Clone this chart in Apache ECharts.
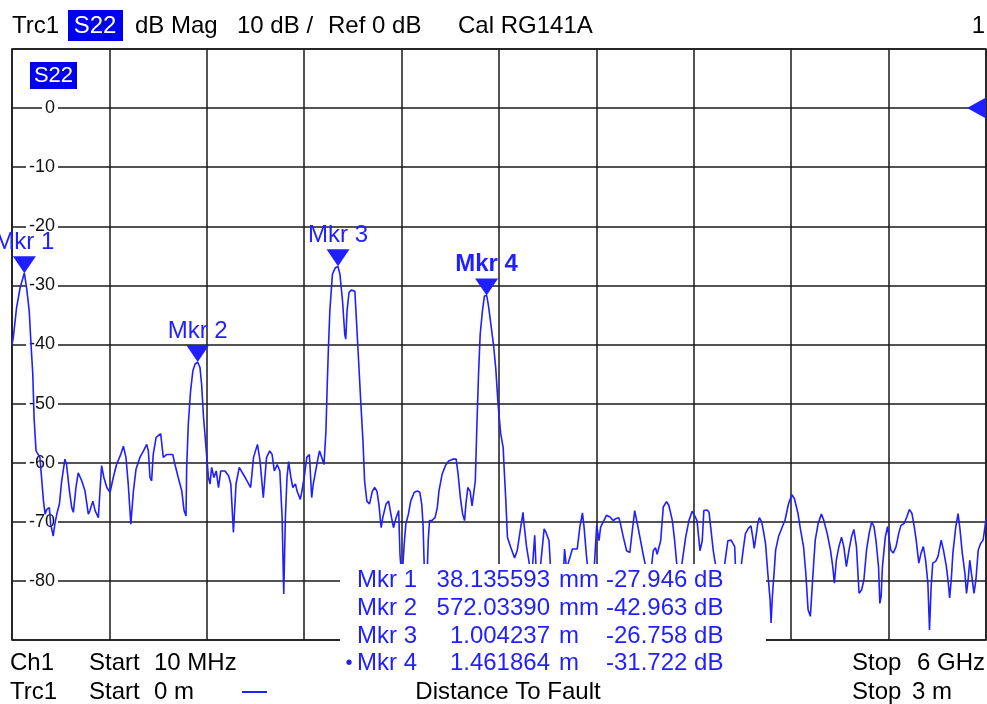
<!DOCTYPE html>
<html>
<head>
<meta charset="utf-8">
<script src="https://cdn.jsdelivr.net/npm/echarts/dist/echarts.min.js"></script>
</head>
<body style="margin:0; background:#fff">
<div id="container" style="width:987px;height:704px;"></div>
<script>
// distance to fault trace, S22 (m / dB)
var distance = [
  0.000,0.004,0.014,0.025,0.038,0.045,0.053,0.058,0.064,0.068,0.074,0.086,0.091,0.097,0.102,0.107,0.115,0.119,0.127,0.132,
  0.138,0.146,0.153,0.163,0.168,0.177,0.184,0.189,0.197,0.204,0.215,0.225,0.235,0.240,0.249,0.256,0.266,0.271,0.276,0.283,
  0.292,0.302,0.312,0.322,0.335,0.343,0.351,0.358,0.366,0.374,0.382,0.394,0.405,0.415,0.420,0.425,0.430,0.435,0.444,0.458,
  0.466,0.477,0.495,0.502,0.512,0.523,0.530,0.536,0.538,0.543,0.550,0.557,0.564,0.572,0.579,0.584,0.590,0.595,0.600,0.605,
  0.610,0.615,0.622,0.629,0.636,0.643,0.656,0.667,0.674,0.682,0.690,0.700,0.718,0.735,0.744,0.756,0.764,0.774,0.784,0.794,
  0.801,0.808,0.817,0.825,0.832,0.837,0.842,0.847,0.852,0.859,0.865,0.873,0.878,0.888,0.893,0.900,0.908,0.916,0.923,0.928,
  0.939,0.947,0.954,0.961,0.967,0.971,0.975,0.979,0.987,0.996,1.004,1.010,1.018,1.025,1.028,1.032,1.038,1.045,1.056,1.061,
  1.066,1.074,1.081,1.086,1.093,1.101,1.110,1.117,1.124,1.130,1.137,1.142,1.152,1.160,1.167,1.175,1.183,1.191,1.195,1.201,
  1.208,1.213,1.221,1.228,1.239,1.249,1.256,1.262,1.266,1.271,1.278,1.282,1.286,1.293,1.303,1.310,1.315,1.325,1.335,1.345,
  1.358,1.368,1.374,1.381,1.388,1.394,1.398,1.404,1.411,1.417,1.423,1.427,1.432,1.437,1.442,1.449,1.455,1.462,1.467,1.475,
  1.483,1.490,1.497,1.505,1.513,1.515,1.521,1.526,1.536,1.548,1.556,1.567,1.574,1.577,1.585,1.592,1.600,1.610,1.615,1.626,
  1.639,1.645,1.654,1.661,1.680,1.698,1.702,1.708,1.726,1.741,1.749,1.757,1.762,1.769,1.777,1.792,1.801,1.808,1.813,1.823,
  1.831,1.842,1.852,1.859,1.869,1.874,1.883,1.893,1.903,1.910,1.918,1.926,1.934,1.944,1.957,1.969,1.975,1.982,1.987,1.998,
  2.006,2.016,2.023,2.034,2.041,2.049,2.061,2.075,2.085,2.095,2.102,2.110,2.119,2.126,2.131,2.141,2.147,2.152,2.160,2.172,
  2.193,2.205,2.215,2.226,2.228,2.242,2.247,2.252,2.259,2.268,2.276,2.283,2.286,2.290,2.297,2.302,2.309,2.314,2.321,2.328,
  2.335,2.338,2.342,2.348,2.352,2.361,2.371,2.381,2.392,2.402,2.410,2.421,2.428,2.438,2.445,2.452,2.459,2.466,2.474,2.483,
  2.493,2.500,2.511,2.521,2.528,2.533,2.539,2.547,2.555,2.562,2.570,2.578,2.586,2.593,2.601,2.609,2.617,2.624,2.632,2.640,
  2.648,2.655,2.661,2.669,2.673,2.677,2.681,2.690,2.697,2.702,2.707,2.714,2.723,2.731,2.738,2.748,2.756,2.764,2.772,2.779,
  2.785,2.793,2.800,2.807,2.814,2.821,2.826,2.831,2.836,2.845,2.852,2.862,2.869,2.878,2.884,2.888,2.893,2.898,2.907,2.914,
  2.919,2.927,2.935,2.940,2.945,2.950,2.955,2.963,2.969,2.976,2.983,2.991,2.997,3.000
];
var magnitude = [
  -40.0,-38.8,-33.8,-30.4,-27.9,-30.4,-34.3,-39.4,-45.0,-52.4,-58.0,-59.1,-62.5,-66.5,-68.7,-67.9,-67.6,-70.4,-72.4,-70.4,
  -68.7,-67.0,-63.1,-59.4,-60.3,-64.8,-67.6,-68.4,-64.2,-61.7,-63.1,-64.8,-68.7,-68.1,-66.5,-68.1,-69.3,-64.8,-60.5,-62.5,
  -64.2,-65.0,-62.5,-60.3,-58.6,-57.2,-59.1,-63.6,-70.4,-64.8,-61.1,-59.1,-58.0,-56.9,-58.0,-62.5,-63.1,-58.6,-55.7,-55.1,
  -59.1,-58.6,-58.6,-60.3,-62.5,-64.8,-68.1,-69.0,-60.8,-53.5,-47.9,-44.5,-43.3,-43.0,-43.9,-46.7,-52.4,-55.7,-59.1,-62.5,
  -63.6,-60.8,-62.5,-61.4,-64.2,-61.4,-61.4,-62.2,-63.6,-71.8,-63.6,-60.8,-62.5,-64.2,-59.1,-56.9,-59.7,-65.9,-59.1,-58.0,
  -58.6,-61.4,-60.3,-61.4,-69.3,-82.2,-69.3,-62.5,-59.8,-62.5,-64.2,-63.6,-64.8,-66.2,-64.8,-62.5,-59.1,-58.6,-65.9,-63.6,
  -60.3,-58.0,-59.1,-60.3,-54.6,-46.7,-40.0,-34.3,-28.1,-27.0,-26.8,-28.1,-32.6,-38.3,-39.1,-34.3,-31.2,-30.8,-31.0,-36.0,
  -41.1,-49.5,-56.3,-63.1,-66.5,-67.0,-64.8,-64.2,-64.8,-67.0,-71.0,-69.3,-67.0,-66.5,-68.7,-71.0,-69.3,-68.1,-75.5,-80.0,
  -73.8,-70.4,-68.7,-66.5,-65.0,-64.8,-65.0,-67.0,-70.4,-80.0,-80.0,-73.2,-69.8,-69.8,-69.3,-67.6,-64.8,-61.9,-60.5,-59.7,
  -59.4,-59.4,-61.9,-65.9,-68.7,-69.8,-67.0,-64.2,-64.8,-67.3,-67.0,-63.1,-53.5,-45.0,-38.3,-34.3,-31.8,-31.7,-33.2,-36.6,
  -40.0,-44.0,-50.0,-55.0,-57.5,-60.1,-66.4,-72.6,-74.3,-76.1,-74.9,-70.9,-68.4,-70.3,-74.3,-76.6,-80.0,-72.3,-79.0,-78.5,
  -71.2,-71.8,-73.2,-80.0,-82.0,-79.0,-74.6,-78.0,-74.6,-74.6,-70.9,-68.5,-70.9,-75.5,-80.0,-79.0,-70.6,-73.2,-70.9,-69.8,
  -68.9,-69.2,-69.8,-69.5,-69.3,-70.3,-72.6,-74.9,-75.2,-71.8,-68.1,-70.3,-72.6,-75.5,-79.0,-78.0,-74.9,-74.4,-75.5,-73.2,
  -67.5,-66.6,-67.2,-69.8,-73.2,-78.0,-78.0,-72.6,-69.8,-68.2,-68.9,-69.8,-74.9,-73.2,-68.1,-68.0,-68.4,-70.9,-74.9,-79.0,
  -78.0,-73.2,-73.1,-74.2,-77.1,-79.0,-77.0,-74.8,-72.0,-71.1,-70.7,-73.1,-74.5,-73.1,-70.3,-69.3,-70.0,-71.4,-73.7,-78.7,
  -83.2,-87.1,-82.6,-78.1,-74.8,-72.5,-71.1,-69.7,-66.9,-65.4,-66.1,-68.6,-71.1,-74.2,-78.7,-84.9,-86.0,-79.8,-73.1,-70.3,
  -68.7,-69.7,-72.0,-74.8,-77.6,-80.4,-76.5,-74.2,-72.6,-74.2,-77.6,-74.8,-72.5,-71.3,-74.2,-82.1,-81.5,-79.8,-74.8,-72.0,
  -70.0,-70.8,-73.1,-77.6,-83.8,-82.6,-77.6,-72.5,-70.8,-73.1,-74.8,-75.3,-74.2,-72.0,-70.6,-70.3,-69.2,-67.9,-68.6,-70.8,
  -73.1,-77.0,-75.3,-74.2,-76.5,-80.4,-88.3,-81.0,-77.0,-76.7,-75.9,-73.1,-74.8,-77.6,-80.4,-82.9,-79.8,-75.3,-70.8,-68.6,
  -70.8,-75.3,-78.7,-82.1,-79.8,-76.5,-78.7,-82.1,-79.8,-74.8,-73.7,-73.1,-70.8,-69.4
];

// markers
var markerNames = ['Mkr 1', 'Mkr 2', 'Mkr 3', 'Mkr 4'];
var markerDistance = [0.038135593, 0.57203390, 1.004237, 1.461864];
var markerValue = [-27.946, -42.963, -26.758, -31.722];
var markerDistText = ['38.135593', '572.03390', '1.004237', '1.461864'];
var markerUnit = ['mm', 'mm', 'm', 'm'];
var markerDbText = ['-27.946 dB', '-42.963 dB', '-26.758 dB', '-31.722 dB'];

var dbTickLabels = [0, -10, -20, -30, -40, -50, -60, -70, -80];
var refLevel = 0;

var BLUE = '#1f1fff';
var FONT = '"Liberation Sans", Arial, sans-serif';

var dom = document.getElementById('container');
var myChart = echarts.init(dom, null, {renderer: 'canvas'});

var traceData = [];
for (var i = 0; i < distance.length; i++) {
    traceData.push([distance[i], magnitude[i]]);
}

var mkPoints = [];
for (var i = 0; i < markerNames.length; i++) {
    mkPoints.push({
        name: markerNames[i],
        coord: [markerDistance[i], markerValue[i]],
        label: {fontWeight: i == 3 ? 'bold' : 'normal'}
    });
}

function txt(s, x, y, opt) {
    opt = opt || {};
    return {
        type: 'text', z: 110,
        style: {
            text: s, x: x, y: y,
            font: (opt.bold ? 'bold ' : '') + (opt.size || 24) + 'px ' + FONT,
            fill: opt.color || '#000',
            textAlign: opt.align || 'left', align: opt.align || 'left',
            textVerticalAlign: 'middle', verticalAlign: 'middle'
        }
    };
}

var graphics = [
    // marker table box
    {type: 'rect', z: 100, shape: {x: 340, y: 564, width: 426, height: 118}, style: {fill: '#fff'}},
    // header
    txt('Trc1', 12, 26),
    {type: 'rect', z: 105, shape: {x: 68, y: 10, width: 55, height: 31}, style: {fill: '#0000f0'}},
    txt('S22', 95, 26, {color: '#fff', align: 'center'}),
    txt('dB Mag', 135, 26),
    txt('10 dB /', 237, 26),
    txt('Ref 0 dB', 328, 26),
    txt('Cal RG141A', 458, 26),
    txt('1', 985, 26, {align: 'right'}),
    // trace tag inside plot
    {type: 'rect', z: 105, shape: {x: 30, y: 62, width: 47, height: 27}, style: {fill: '#0000f0'}},
    txt('S22', 53.5, 76, {color: '#fff', align: 'center', size: 22}),
    // footer
    txt('Ch1', 10, 663),
    txt('Start', 89, 663),
    txt('10 MHz', 154, 663),
    txt('Stop', 852, 663),
    txt('6 GHz', 985, 663, {align: 'right'}),
    txt('Trc1', 10, 692),
    txt('Start', 89, 692),
    txt('0 m', 154, 692),
    {type: 'rect', z: 105, shape: {x: 242, y: 691, width: 25, height: 2}, style: {fill: BLUE}},
    txt('Distance To Fault', 508, 692, {align: 'center'}),
    txt('Stop', 852, 692),
    txt('3 m', 912, 692)
];

var rowY = [580, 608, 636, 663];
for (var i = 0; i < markerNames.length; i++) {
    graphics.push(txt(markerNames[i], 357, rowY[i], {color: BLUE}));
    graphics.push(txt(markerDistText[i], 550, rowY[i], {color: BLUE, align: 'right'}));
    graphics.push(txt(markerUnit[i], 559, rowY[i], {color: BLUE}));
    graphics.push(txt(markerDbText[i], 606, rowY[i], {color: BLUE}));
}
graphics.push(txt('\u2022', 349, rowY[3], {color: BLUE, align: 'center', size: 20}));

var option = {
    animation: false,
    backgroundColor: '#fff',
    grid: {
        left: 12, right: 1, top: 49, bottom: 64,
        show: true, borderColor: '#1a1a1a', borderWidth: 1.5, backgroundColor: '#fff'
    },
    xAxis: {
        type: 'value', min: 0, max: 3, interval: 0.3,
        axisLine: {show: false}, axisTick: {show: false}, axisLabel: {show: false},
        splitLine: {show: true, lineStyle: {color: '#1a1a1a', width: 1.5}}
    },
    yAxis: {
        type: 'value', min: -90, max: 10, interval: 10,
        axisLine: {show: false}, axisTick: {show: false},
        axisLabel: {
            inside: true, margin: 46, align: 'right',
            fontFamily: FONT, fontSize: 18, color: '#111',
            backgroundColor: '#fff', padding: [0, 3, 0, 3],
            formatter: function (v) {
                return dbTickLabels.indexOf(v) >= 0 ? String(v) : '';
            }
        },
        splitLine: {show: true, lineStyle: {color: '#1a1a1a', width: 1.5}}
    },
    graphic: graphics,
    series: [{
        type: 'line',
        name: 'Trc1',
        data: traceData,
        showSymbol: false,
        lineStyle: {color: BLUE, width: 1.6},
        z: 5,
        markPoint: {
            symbol: 'triangle',
            symbolRotate: 180,
            symbolSize: [23, 17],
            symbolOffset: [0, -8.5],
            itemStyle: {color: BLUE},
            label: {
                show: true, position: 'top', distance: 2,
                formatter: '{b}', color: BLUE, fontSize: 24, fontFamily: FONT
            },
            data: mkPoints
        }
    }, {
        // reference level arrow at right edge
        type: 'line',
        data: [],
        markPoint: {
            symbol: 'triangle',
            symbolRotate: 90,
            symbolSize: [21, 19],
            symbolOffset: [-9.5, 0],
            itemStyle: {color: BLUE},
            label: {show: false},
            data: [{coord: [3, refLevel]}]
        }
    }]
};

myChart.setOption(option);
</script>
</body>
</html>
